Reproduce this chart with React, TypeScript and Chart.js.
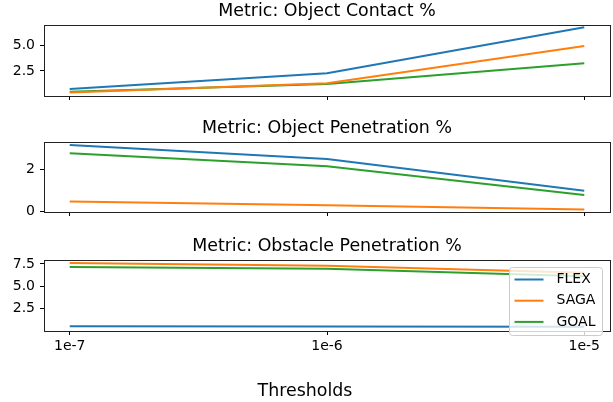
import React, { useEffect, useRef } from 'react';
import { Chart, registerables } from 'chart.js';

Chart.register(...registerables);

// ---------- data ----------
const THRESHOLDS = ['1e-7', '1e-6', '1e-5'];
const SERIES = ['FLEX', 'SAGA', 'GOAL'];
const COLORS = ['#1f77b4', '#ff7f0e', '#2ca02c'];
const X_LABEL = 'Thresholds';

const CONTACT_TITLE = 'Metric: Object Contact %';
const CONTACT_FLEX = [0.72, 2.27, 6.82];
const CONTACT_SAGA = [0.38, 1.28, 4.97];
const CONTACT_GOAL = [0.45, 1.22, 3.26];
const CONTACT_TICKS = [2.5, 5.0];

const PENETRATION_TITLE = 'Metric: Object Penetration %';
const PENETRATION_FLEX = [3.18, 2.51, 1.0];
const PENETRATION_SAGA = [0.48, 0.31, 0.11];
const PENETRATION_GOAL = [2.78, 2.16, 0.8];
const PENETRATION_TICKS = [0, 2];

const OBSTACLE_TITLE = 'Metric: Obstacle Penetration %';
const OBSTACLE_FLEX = [0.48, 0.46, 0.43];
const OBSTACLE_SAGA = [7.6, 7.31, 6.5];
const OBSTACLE_GOAL = [7.15, 6.97, 6.13];
const OBSTACLE_TICKS = [2.5, 5.0, 7.5];

const FONT = '"DejaVu Sans", sans-serif';
const W = 613;
const H = 402;
const TITLE_BLOCK = 26;
const XLABEL_BLOCK = 21;

const framePlugin = {
  id: 'frame',
  afterDatasetsDraw(chart: any) {
    const { ctx, chartArea: a } = chart;
    ctx.save();
    ctx.strokeStyle = '#222';
    ctx.lineWidth = 1;
    const l = Math.round(a.left) + 0.5;
    const t = Math.round(a.top) + 0.5;
    const r = Math.round(a.right) + 0.5;
    const b = Math.round(a.bottom) + 0.5;
    ctx.strokeRect(l, t, r - l, b - t);
    ctx.restore();
  },
};

const legendPlugin = {
  id: 'boxLegend',
  afterDraw(chart: any) {
    const { ctx, chartArea: a } = chart;
    const x0 = Math.round(a.right) - 101 + 0.5;
    const y0 = Math.round(a.top) + 7 + 0.5;
    const w = 93;
    const h = 68;
    const r = 3;
    ctx.save();
    ctx.beginPath();
    ctx.moveTo(x0 + r, y0);
    ctx.lineTo(x0 + w - r, y0);
    ctx.arcTo(x0 + w, y0, x0 + w, y0 + r, r);
    ctx.lineTo(x0 + w, y0 + h - r);
    ctx.arcTo(x0 + w, y0 + h, x0 + w - r, y0 + h, r);
    ctx.lineTo(x0 + r, y0 + h);
    ctx.arcTo(x0, y0 + h, x0, y0 + h - r, r);
    ctx.lineTo(x0, y0 + r);
    ctx.arcTo(x0, y0, x0 + r, y0, r);
    ctx.closePath();
    ctx.fillStyle = 'rgba(255,255,255,0.8)';
    ctx.fill();
    ctx.strokeStyle = '#cccccc';
    ctx.lineWidth = 1;
    ctx.stroke();
    chart.data.datasets.forEach((ds: any, i: number) => {
      const cy = y0 + 12 + i * 21.2;
      ctx.strokeStyle = ds.borderColor;
      ctx.lineWidth = 2;
      ctx.beginPath();
      ctx.moveTo(x0 + 5, cy);
      ctx.lineTo(x0 + 34, cy);
      ctx.stroke();
      ctx.fillStyle = '#000';
      ctx.font = '14px ' + FONT;
      ctx.textBaseline = 'middle';
      ctx.textAlign = 'left';
      ctx.fillText(ds.label, x0 + 47, cy);
    });
    ctx.restore();
  },
};

type PanelProps = {
  title: string;
  values: number[][];
  yMin: number;
  yMax: number;
  yTicks: number[];
  decimals: number;
  boxTop: number;
  boxH: number;
  last: boolean;
};

function Panel(p: PanelProps) {
  const ref = useRef<HTMLCanvasElement>(null);
  const top = p.boxTop - TITLE_BLOCK;
  const bottomSpace = p.last ? H - (p.boxTop + p.boxH) : 6;
  const axisH = p.last ? bottomSpace - XLABEL_BLOCK : bottomSpace;
  const height = TITLE_BLOCK + p.boxH + bottomSpace;

  useEffect(() => {
    const chart = new Chart(ref.current as HTMLCanvasElement, {
      type: 'line',
      data: {
        datasets: SERIES.map((name, i) => ({
          label: name,
          data: p.values[i].map((y, j) => ({ x: j, y })),
          borderColor: COLORS[i],
          backgroundColor: COLORS[i],
          borderWidth: 2,
          pointRadius: 0,
          tension: 0,
          fill: false,
        })),
      },
      options: {
        responsive: false,
        animation: false,
        devicePixelRatio: 1,
        events: [],
        layout: { padding: { left: 0, right: 3, top: 0, bottom: 0 } },
        plugins: {
          legend: { display: false },
          tooltip: { enabled: false },
          title: {
            display: true,
            fullSize: false,
            text: p.title,
            color: '#000',
            font: { family: FONT, size: 17.4, weight: 'normal', lineHeight: '20px' },
            padding: { top: 2, bottom: 4 },
          },
          subtitle: {
            display: p.last,
            position: 'bottom',
            fullSize: true,
            text: X_LABEL,
            color: '#000',
            font: { family: FONT, size: 17.4, weight: 'normal', lineHeight: '20px' },
            padding: { top: 0, bottom: 1 },
          },
        },
        scales: {
          x: {
            type: 'linear',
            min: -0.1,
            max: 2.1,
            afterBuildTicks: (s: any) => {
              s.ticks = THRESHOLDS.map((_, i) => ({ value: i }));
            },
            afterFit: (s: any) => {
              s.height = axisH;
              s.paddingLeft = 0;
              s.paddingRight = 0;
              s.paddingTop = 0;
              s.paddingBottom = 0;
            },
            ticks: {
              display: p.last,
              autoSkip: false,
              maxRotation: 0,
              padding: 3,
              color: '#000',
              font: { family: FONT, size: 14 },
              callback: (v: any) => THRESHOLDS[v] ?? '',
            },
            grid: {
              display: true,
              drawOnChartArea: false,
              drawTicks: true,
              tickLength: 4,
              color: '#000',
              lineWidth: 1,
            },
            border: { display: false },
          },
          y: {
            type: 'linear',
            min: p.yMin,
            max: p.yMax,
            afterBuildTicks: (s: any) => {
              s.ticks = p.yTicks.map((v) => ({ value: v }));
            },
            afterFit: (s: any) => {
              s.width = 44;
              s.paddingLeft = 0;
              s.paddingRight = 0;
              s.paddingTop = 0;
              s.paddingBottom = 0;
            },
            ticks: {
              autoSkip: false,
              padding: 5,
              color: '#000',
              font: { family: FONT, size: 14 },
              callback: (v: any) => Number(v).toFixed(p.decimals),
            },
            grid: {
              display: true,
              drawOnChartArea: false,
              drawTicks: true,
              tickLength: 4,
              color: '#000',
              lineWidth: 1,
            },
            border: { display: false },
          },
        },
      } as any,
      plugins: p.last ? [framePlugin, legendPlugin] : [framePlugin],
    });
    return () => chart.destroy();
  }, []);

  return (
    <canvas
      ref={ref}
      width={W}
      height={height}
      style={{ position: 'absolute', left: 0, top, width: W, height, display: 'block' }}
    />
  );
}

export default function App() {
  return (
    <div style={{ position: 'absolute', left: 0, top: 0, width: W, height: H, background: '#fff', overflow: 'hidden' }}>
      <Panel
        title={CONTACT_TITLE}
        values={[CONTACT_FLEX, CONTACT_SAGA, CONTACT_GOAL]}
        yMin={0.03}
        yMax={7.04}
        yTicks={CONTACT_TICKS}
        decimals={1}
        boxTop={25}
        boxH={71}
        last={false}
      />
      <Panel
        title={PENETRATION_TITLE}
        values={[PENETRATION_FLEX, PENETRATION_SAGA, PENETRATION_GOAL]}
        yMin={-0.015}
        yMax={3.32}
        yTicks={PENETRATION_TICKS}
        decimals={0}
        boxTop={142}
        boxH={70}
        last={false}
      />
      <Panel
        title={OBSTACLE_TITLE}
        values={[OBSTACLE_FLEX, OBSTACLE_SAGA, OBSTACLE_GOAL]}
        yMin={-0.06}
        yMax={7.95}
        yTicks={OBSTACLE_TICKS}
        decimals={1}
        boxTop={260}
        boxH={71}
        last={true}
      />
    </div>
  );
}
